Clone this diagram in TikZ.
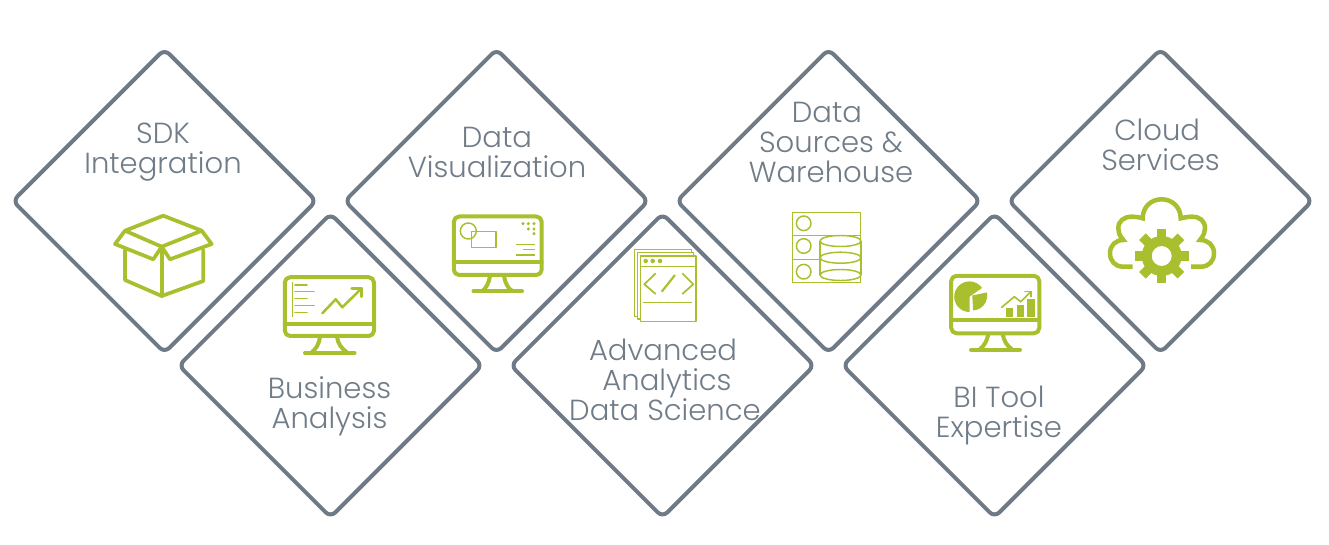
\documentclass[tikz,border=0pt]{standalone}
\usepackage{fontspec}
\setmainfont{Poppins}[UprightFont=* Light]
\usetikzlibrary{shapes.geometric}
\definecolor{slateline}{HTML}{6E7B87}
\definecolor{slatetext}{HTML}{707C88}
\definecolor{lime}{HTML}{AABF2D}
\tikzset{
  x=0.75pt,y=-0.75pt,
  tile/.style={shape=diamond,aspect=1,draw=slateline,line width=3pt,rounded corners=5pt,minimum size=228.75pt,inner sep=0pt},
  caption/.style={text=slatetext,align=center,font=\fontsize{21.8}{22.5}\selectfont,inner sep=0pt},
  heavy/.style={draw=lime,line width=3pt,line join=round,line cap=round},
  medium/.style={draw=lime,line width=1.9pt,line join=round,line cap=round},
  fine/.style={draw=lime,line width=1.1pt,line join=round},
}
\begin{document}
\begin{tikzpicture}
\useasboundingbox (0,0) rectangle (1329,545);
% tiles
\node[tile] (d1) at (164.5,201) {};
\node[tile] (d2) at (330.5,365.5) {};
\node[tile] (d3) at (496.5,201) {};
\node[tile] (d4) at (662.5,365.5) {};
\node[tile] (d5) at (828.5,201) {};
\node[tile] (d6) at (994.5,365.5) {};
\node[tile] (d7) at (1160.5,201) {};
% captions
\node[caption] (t1) at (163,152) {SDK\\Integration};
\node[caption] (t2) at (329.5,406) {Business\\Analysis};
\node[caption] (t3) at (497,152) {Data\\Visualization};
\node[caption] (t4) at (665,380) {Advanced\hspace*{3pt}\\\hspace*{3pt}Analytics\\Data Science};
\node[caption] (t5) at (831,142) {Data\hspace*{6pt}\\Sources \&\hspace*{6pt}\\Warehouse};
\node[caption] (t6) at (999,415) {BI Tool\\Expertise};
\node[caption] (t7) at (1160.5,145) {Cloud\hspace*{5pt}\\Services};
% box icon
\draw[heavy,line width=2.8pt] (125,230.7) -- (163.3,215.7) -- (201.7,230.7) -- (161.7,246.7) -- cycle;
\draw[heavy,line width=2.8pt] (125,230.7) -- (115,244) -- (153.3,259.3) -- (161.7,246.7) -- (170,259.3) -- (211.7,244) -- (201.7,230.7);
\draw[heavy,line width=2.8pt] (125,250) -- (125,280) -- (161.7,296) -- (203.3,281) -- (203.3,250);
\draw[heavy,line width=2.8pt] (161.7,246.7) -- (161.7,296);
% monitor: business
\draw[heavy,rounded corners=4pt] (284.8,277.2) rectangle (374,336);
\draw[heavy] (284.8,324) -- (374,324);
\draw[heavy,line cap=butt] (320,337) .. controls (319,344) and (316,349) .. (312,352);
\draw[heavy,line cap=butt] (337,337) .. controls (338,344) and (342,349) .. (346.7,352);
\draw[heavy] (305,353) -- (354.5,353);
\draw[fine] (292.3,282.3) -- (292.3,316.7);
\draw[medium,line width=1.2pt] (295,285) -- (307,285) (295,291.7) -- (314,291.7) (295,298.7) -- (307,298.7) (295,305.7) -- (314,305.7) (295,312.7) -- (307,312.7);
\draw[medium] (322.3,313.3) -- (335.7,299.3) -- (342.3,307.3) -- (361.7,288.3);
\draw[medium] (351.7,288.3) -- (361.7,288.3) -- (361.7,296.7);
% monitor: visualization
\draw[heavy,rounded corners=4pt] (453.8,216.5) rectangle (541.7,275);
\draw[heavy] (453.8,262) -- (541.7,262);
\draw[heavy,line cap=butt] (490,276) .. controls (489,283) and (486,288) .. (482.7,290.7);
\draw[heavy,line cap=butt] (504,276) .. controls (505,283) and (508,288) .. (511.7,290.7);
\draw[heavy] (473.5,291.3) -- (522,291.3);
\draw[fine] (468.3,231) circle (8);
\draw[fine] (471.7,231.7) rectangle (496,247.7);
\foreach \px/\py in {523/223.7,528.3/223.7,534/223.7,528.3/229,534/229,534/233.7}
  \fill[lime] (\px,\py) circle (1.3pt);
\draw[fine] (516,244.3) -- (535,244.3) (523.3,249.7) -- (535,249.7) (516,255) -- (535,255);
% code pages
\draw[fine,fill=white] (634.3,249.3) rectangle (691.7,316.7);
\draw[fine,fill=white] (637.3,252.7) rectangle (693.7,319);
\draw[fine,fill=white] (640.7,256) rectangle (696,321.7);
\draw[fine] (640.7,266.7) -- (696,266.7);
\foreach \px in {645.7,652.7,660}
  \fill[lime] (\px,261) circle (1.7pt);
\draw[medium,line width=1.3pt,line cap=butt] (655.7,273.3) -- (644.3,284.3) -- (655.7,294);
\draw[medium,line width=1.3pt,line cap=butt] (682.3,273.3) -- (693.3,284.3) -- (682.3,294);
\draw[medium,line width=1.6pt,line cap=butt] (675,275) -- (661.7,291.7);
\draw[medium,line width=1.1pt,line cap=butt] (643.3,302.7) -- (691.7,302.7);
% database
\draw[fine] (792.7,212.7) rectangle (860.3,282.3);
\draw[fine] (792.7,235.7) -- (860.3,235.7) (792.7,259.3) -- (820,259.3);
\foreach \py in {223.3,246,271.7}
  \draw[fine] (803.7,\py) circle (7.3);
\draw[fine] (820,241) -- (820,275);
\draw[fine] (861,241) -- (861,275);
\foreach \py in {241,257.7,275}
  \draw[fine] (840.5,\py) ellipse (20.5 and 5.5);
% monitor: BI
\draw[heavy,rounded corners=4pt] (951.2,275.8) rectangle (1039.3,333.3);
\draw[heavy] (951.2,320) -- (1039.3,320);
\draw[heavy,line cap=butt] (988.3,334.3) .. controls (987,341) and (984,346) .. (980,349);
\draw[heavy,line cap=butt] (1002.7,334.3) .. controls (1004,341) and (1007,346) .. (1011.7,349);
\draw[heavy] (971,349.7) -- (1020,349.7);
\fill[lime] (969.5,296.7) -- +(90:15.3) arc[start angle=90,end angle=325,radius=15.3] -- cycle;
\fill[lime] (972.3,295.5) -- +(87:15) arc[start angle=87,end angle=-12,radius=15] -- cycle;
\fill[lime] (1006,307.7) rectangle (1013.3,316.7);
\fill[lime] (1016.7,305.3) rectangle (1024.3,316.7);
\fill[lime] (1027.3,298.7) rectangle (1035,316.7);
\draw[medium,line width=1.2pt] (1001.7,307.3) -- (1014.3,296.7) -- (1020.7,301.7) -- (1030.5,292);
\draw[medium,line width=1.2pt] (1025,291.7) -- (1030.7,291.7) -- (1030.7,296.7);
% cloud
\draw[heavy,line width=3.4pt,line cap=butt,line join=miter]
  (1132.7,266.7) -- (1123.3,266.7)
  .. controls (1115,266.7) and (1110,261) .. (1110,253.3)
  .. controls (1110,245) and (1116,240) .. (1123.3,240)
  .. controls (1119,235) and (1118.3,232) .. (1118.3,228.3)
  .. controls (1118.3,221) and (1124,216.7) .. (1131.7,216.7)
  .. controls (1136,216.7) and (1140,217.5) .. (1142.7,218.3)
  .. controls (1142.7,207) and (1151,199.3) .. (1161.7,199.3)
  .. controls (1172,199.3) and (1180.7,207) .. (1180.7,218.3)
  .. controls (1184,217.5) and (1188,216.7) .. (1192,216.7)
  .. controls (1200,216.7) and (1205,221) .. (1205,228.3)
  .. controls (1205,232) and (1204,235) .. (1200,240)
  .. controls (1208,240) and (1214,245) .. (1214,253.3)
  .. controls (1214,261) and (1209,266.7) .. (1200.7,266.7)
  -- (1191,266.7);
\foreach \a in {0,45,...,315}
  \fill[lime,rotate around={\a:(1161.7,256)}] (1157,228.8) rectangle (1166.4,240);
\fill[lime,even odd rule] (1161.7,256) circle (15pt) (1161.7,256) circle (7.5pt);
\end{tikzpicture}
\end{document}
